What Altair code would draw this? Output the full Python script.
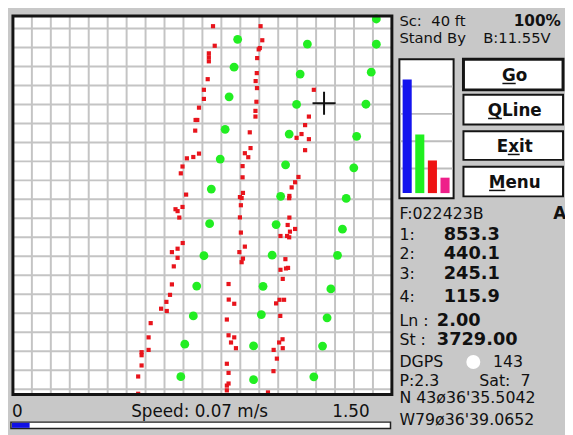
import altair as alt
import pandas as pd

# ---------------- data (field map in grid units, 1 unit = one grid cell) ----------------
red_x = [10.56, 10.65, 10.34, 10.34, 10.34, 10.28, 10.08, 10.08, 9.82, 9.64,
         9.73, 9.62, 9.82, 9.52, 9.18, 8.95, 8.86, 9.14, 8.95, 8.58,
         8.69, 8.78, 8.96, 8.69, 8.39, 8.69, 8.49, 8.39, 8.29, 8.10,
         7.82, 8.12, 7.27, 7.16, 7.16, 6.79, 6.79, 6.79, 6.61, 6.61,
         13.07, 13.16, 13.03, 12.97, 12.89, 12.87, 12.81, 12.88, 12.85, 12.80,
         12.80, 12.50, 12.54, 12.24, 12.42, 12.12, 12.12, 12.14, 11.98, 12.07,
         12.03, 11.98, 12.03, 12.24, 11.95, 12.14, 12.07, 11.38, 11.39, 11.68,
         11.29, 11.38, 11.68, 11.51, 11.77, 11.29, 11.38, 11.38, 11.29, 11.29,
         15.88, 15.62, 15.42, 15.23, 14.97, 15.62, 15.42, 15.07, 14.89, 14.71,
         14.59, 14.58, 14.59, 14.50, 14.89, 14.62, 14.47, 14.58, 14.12, 14.38,
         14.41, 14.52, 14.12, 14.24, 14.07, 13.89, 14.31, 14.11, 14.23, 14.05,
         14.24, 13.76, 13.93, 13.75, 13.46]
red_y = [19.12, 18.09, 17.69, 17.48, 17.27, 16.33, 15.77, 15.29, 14.83, 14.18,
         14.18, 13.62, 12.41, 12.23, 12.16, 11.73, 11.37, 10.25, 9.60, 9.48,
         9.38, 9.04, 7.70, 7.40, 7.22, 6.92, 6.47, 5.52, 4.97, 4.60,
         4.24, 4.12, 3.48, 2.73, 2.07, 1.95, 1.79, 1.25, 0.67, -0.24,
         19.12, 18.38, 17.97, 17.90, 17.44, 16.65, 16.23, 15.86, 15.14, 14.66,
         14.36, 13.53, 12.70, 12.43, 12.22, 11.75, 11.16, 10.34, 10.12, 10.07,
         9.69, 9.05, 8.25, 7.51, 7.22, 6.88, 6.69, 5.54, 4.72, 4.50,
         3.67, 2.84, 2.73, 2.46, 2.16, 1.34, 0.86, 0.30, 0.19, -0.06,
         15.77, 14.36, 13.91, 13.44, 13.24, 13.17, 12.59, 11.18, 10.90, 10.63,
         10.18, 10.06, 9.04, 8.65, 8.44, 8.30, 8.07, 8.00, 8.07, 6.85,
         6.36, 6.39, 6.29, 5.81, 4.71, 4.52, 4.71, 3.86, 2.63, 2.46,
         2.16, 2.07, 1.61, 0.95, -0.17]

green_x = [11.86, 11.67, 11.41, 11.20, 10.94, 10.47, 10.38, 10.08, 9.70, 9.52, 9.07, 8.86,
           15.54, 15.16, 14.97, 14.58, 14.39, 14.13, 13.89, 13.68, 13.20, 13.11, 12.70, 12.70,
           19.18, 19.18, 18.91, 18.63, 18.14, 17.99, 17.59, 17.39, 17.13, 16.78, 16.58, 16.34, 15.88]
green_y = [18.43, 16.96, 15.40, 13.69, 12.12, 10.54, 8.72, 7.03, 5.43, 3.86, 2.37, 0.66,
           18.18, 16.60, 15.00, 13.44, 11.82, 10.16, 8.67, 7.06, 5.42, 3.93, 2.28, 0.50,
           19.50, 18.17, 16.70, 15.01, 13.32, 11.66, 10.05, 8.43, 7.05, 5.28, 3.76, 2.27, 0.65]

cursor_x = [16.42]
cursor_y = [15.06]

grid_x = list(range(1, 20))
grid_y = list(range(0, 20))
x_domain = [0, 20]
y_domain = [-0.28, 19.66]

channels = [1, 2, 3, 4]
channel_values = [853.3, 440.1, 245.1, 115.9]
channel_colors = ["#1414ee", "#1ff01f", "#ee1414", "#ee1f8a"]
bar_grid_values = [185, 390, 595, 800]

speed = 0.07
speed_max = 1.50

button_labels = ["Go", "QLine", "Exit", "Menu"]

FONT = "DejaVu Sans"
NB = "\u00a0"
OX, OY = 8, 8  # page margin


def px(v):
    return v - OX


def py(v):
    return v - OY


# ---------------- field map ----------------
XS = alt.Scale(domain=x_domain, range=[px(13), px(397.4)], nice=False, zero=False)
YS = alt.Scale(domain=y_domain, range=[py(397), py(13)], nice=False, zero=False)

frame_df = pd.DataFrame({"x0": [x_domain[0]], "x1": [x_domain[1]],
                         "y0": [y_domain[0]], "y1": [y_domain[1]]})

bg = alt.Chart(frame_df).mark_rect(fill="white").encode(
    x=alt.X("x0:Q", scale=XS, axis=None), x2="x1:Q",
    y=alt.Y("y0:Q", scale=YS, axis=None), y2="y1:Q")

vgrid = alt.Chart(pd.DataFrame({"g": grid_x, "a": y_domain[0], "b": y_domain[1]})).mark_rule(
    color="#c4c4c4", strokeWidth=2).encode(
    x=alt.X("g:Q", scale=XS, axis=None),
    y=alt.Y("a:Q", scale=YS, axis=None), y2="b:Q")

hgrid = alt.Chart(pd.DataFrame({"g": grid_y, "a": x_domain[0], "b": x_domain[1]})).mark_rule(
    color="#c4c4c4", strokeWidth=2).encode(
    y=alt.Y("g:Q", scale=YS, axis=None),
    x=alt.X("a:Q", scale=XS, axis=None), x2="b:Q")

frame = alt.Chart(frame_df).mark_rect(fill=None, stroke="#141414", strokeWidth=3).encode(
    x=alt.X("x0:Q", scale=XS, axis=None), x2="x1:Q",
    y=alt.Y("y0:Q", scale=YS, axis=None), y2="y1:Q")

green = alt.Chart(pd.DataFrame({"x": green_x, "y": green_y})).mark_point(
    shape="circle", filled=True, size=80, color="#22ee22", opacity=1).encode(
    x=alt.X("x:Q", scale=XS, axis=None), y=alt.Y("y:Q", scale=YS, axis=None))

red = alt.Chart(pd.DataFrame({"x": red_x, "y": red_y})).mark_point(
    shape="square", filled=True, size=18, color="#e8141c", opacity=1).encode(
    x=alt.X("x:Q", scale=XS, axis=None), y=alt.Y("y:Q", scale=YS, axis=None))

cursor = alt.Chart(pd.DataFrame({"x": cursor_x, "y": cursor_y})).mark_point(
    shape="M-1,0L1,0M0,-1L0,1", filled=False, size=548, stroke="#111111",
    strokeWidth=2, opacity=1).encode(
    x=alt.X("x:Q", scale=XS, axis=None), y=alt.Y("y:Q", scale=YS, axis=None))

field = alt.layer(bg, vgrid, hgrid, red, green, cursor, frame)

# ---------------- channel bar chart ----------------
one = pd.DataFrame({"k": [0]})
BXS = alt.Scale(domain=[0, 4], range=[px(408.3), px(408.3 + 4 * 12.8)], nice=False, zero=False)
BYS = alt.Scale(domain=[0, 1000], range=[py(192.7), py(57.6)], nice=False, zero=False)

mini_frame = alt.Chart(one).mark_rect(fill="white", stroke="#141414", strokeWidth=2).encode(
    x=alt.value(px(405)), x2=alt.value(px(460)), y=alt.value(py(57)), y2=alt.value(py(198)))

mini_grid = alt.Chart(pd.DataFrame({"g": bar_grid_values})).mark_rule(
    color="#bdbdbd", strokeWidth=2).encode(
    y=alt.Y("g:Q", scale=BYS, axis=None), x=alt.value(px(406)), x2=alt.value(px(459)))

bars_df = pd.DataFrame({"i": [c - 1 for c in channels], "v": channel_values,
                        "c": channel_colors, "z": 0})
mini_bars = alt.Chart(bars_df).transform_calculate(i2="datum.i + 0.72").mark_rect().encode(
    x=alt.X("i:Q", scale=BXS, axis=None), x2="i2:Q",
    y=alt.Y("v:Q", scale=BYS, axis=None), y2="z:Q",
    color=alt.Color("c:N", scale=None))

mini = alt.layer(mini_frame, mini_grid, mini_bars)

# ---------------- speed bar ----------------
SXS = alt.Scale(domain=[0, speed_max], range=[px(12), px(396)], nice=False, zero=False)
speed_frame = alt.Chart(one).mark_rect(fill="white", stroke="#202020", strokeWidth=1.5).encode(
    x=alt.value(px(11)), x2=alt.value(px(396)), y=alt.value(py(425)), y2=alt.value(py(431.5)))
speed_fill = alt.Chart(pd.DataFrame({"a": [0.0], "s": [speed]})).mark_rect(color="#1010e6").encode(
    x=alt.X("a:Q", scale=SXS, axis=None), x2="s:Q",
    y=alt.value(py(425.7)), y2=alt.value(py(430.8)))
speedbar = alt.layer(speed_frame, speed_fill)


# ---------------- text ----------------
def label(s, x, y, size=16, bold=False, align="left", color="#111111"):
    return alt.Chart(pd.DataFrame({"t": [s]})).mark_text(
        align=align, baseline="alphabetic", font=FONT, fontSize=size,
        fontWeight="bold" if bold else "normal", color=color).encode(
        x=alt.value(px(x)), y=alt.value(py(y)), text="t:N")


texts = [
    label("0", 12, 420, size=17),
    label(f"Speed: {speed:.2f} m/s", 133, 420, size=17),
    label(f"{speed_max:.2f}", 337, 420, size=17),
    label(f"Sc:{NB}{NB}40 ft", 405, 23.5, size=15),
    label("100%", 521, 23.5, size=15.5, bold=True),
    label("Stand By", 405, 40, size=15),
    label("B:11.55V", 490, 40, size=15),
    label("F:022423B", 405, 219),
    label("A", 561, 219, size=17, bold=True),
]
val_baselines = [240, 260, 279.5, 303]
for ch, v, yb in zip(channels, channel_values, val_baselines):
    texts.append(label(f"{ch}:", 405, yb))
    texts.append(label(f"{v:.1f}", 450, yb, size=18, bold=True))

texts += [
    label("Ln :", 405, 327),
    label("2.00", 443, 327, size=18, bold=True),
    label("St :", 405, 346.5),
    label("3729.00", 443, 346.5, size=18, bold=True),
    label("DGPS", 405, 369),
    label("143", 500, 369),
    label("P:2.3", 405, 388.5),
    label(f"Sat:{NB}{NB}7", 486, 388.5),
    label("N 43ø36'35.5042", 405, 406),
    label("W79ø36'39.0652", 405, 428),
]

dgps_dot = alt.Chart(one).mark_circle(size=200, color="white", opacity=1).encode(
    x=alt.value(px(480)), y=alt.value(py(364)))

# ---------------- buttons ----------------
button_tops = [57, 93, 130, 166]
button_bottoms = [88, 123, 159, 196]
underline_spans = [(509.5, 523), (495, 509), (515, 527), (496, 512.5)]
buttons = []
for i, (lab, t, b, (u0, u1)) in enumerate(zip(button_labels, button_tops, button_bottoms,
                                               underline_spans)):
    base = (t + b) / 2 + 6.5
    buttons.append(alt.Chart(one).mark_rect(
        fill="white", stroke="#141414", strokeWidth=3 if i == 0 else 2).encode(
        x=alt.value(px(470)), x2=alt.value(px(571)), y=alt.value(py(t)), y2=alt.value(py(b))))
    buttons.append(label(lab, 522, base, size=17, bold=True, align="center"))
    buttons.append(alt.Chart(one).mark_rule(color="#111111", strokeWidth=1.5).encode(
        x=alt.value(px(u0)), x2=alt.value(px(u1)),
        y=alt.value(py(base + 2.5))))

chart = alt.layer(field, mini, speedbar, dgps_dot, *buttons, *texts).resolve_scale(
    x="independent", y="independent").properties(
    width=565, height=427, background="#c8c8c8", padding=0,
    autosize=alt.AutoSizeParams(type="none")).configure_view(stroke=None)

chart.save("out.html", embed_options={"renderer": "svg", "actions": False})
